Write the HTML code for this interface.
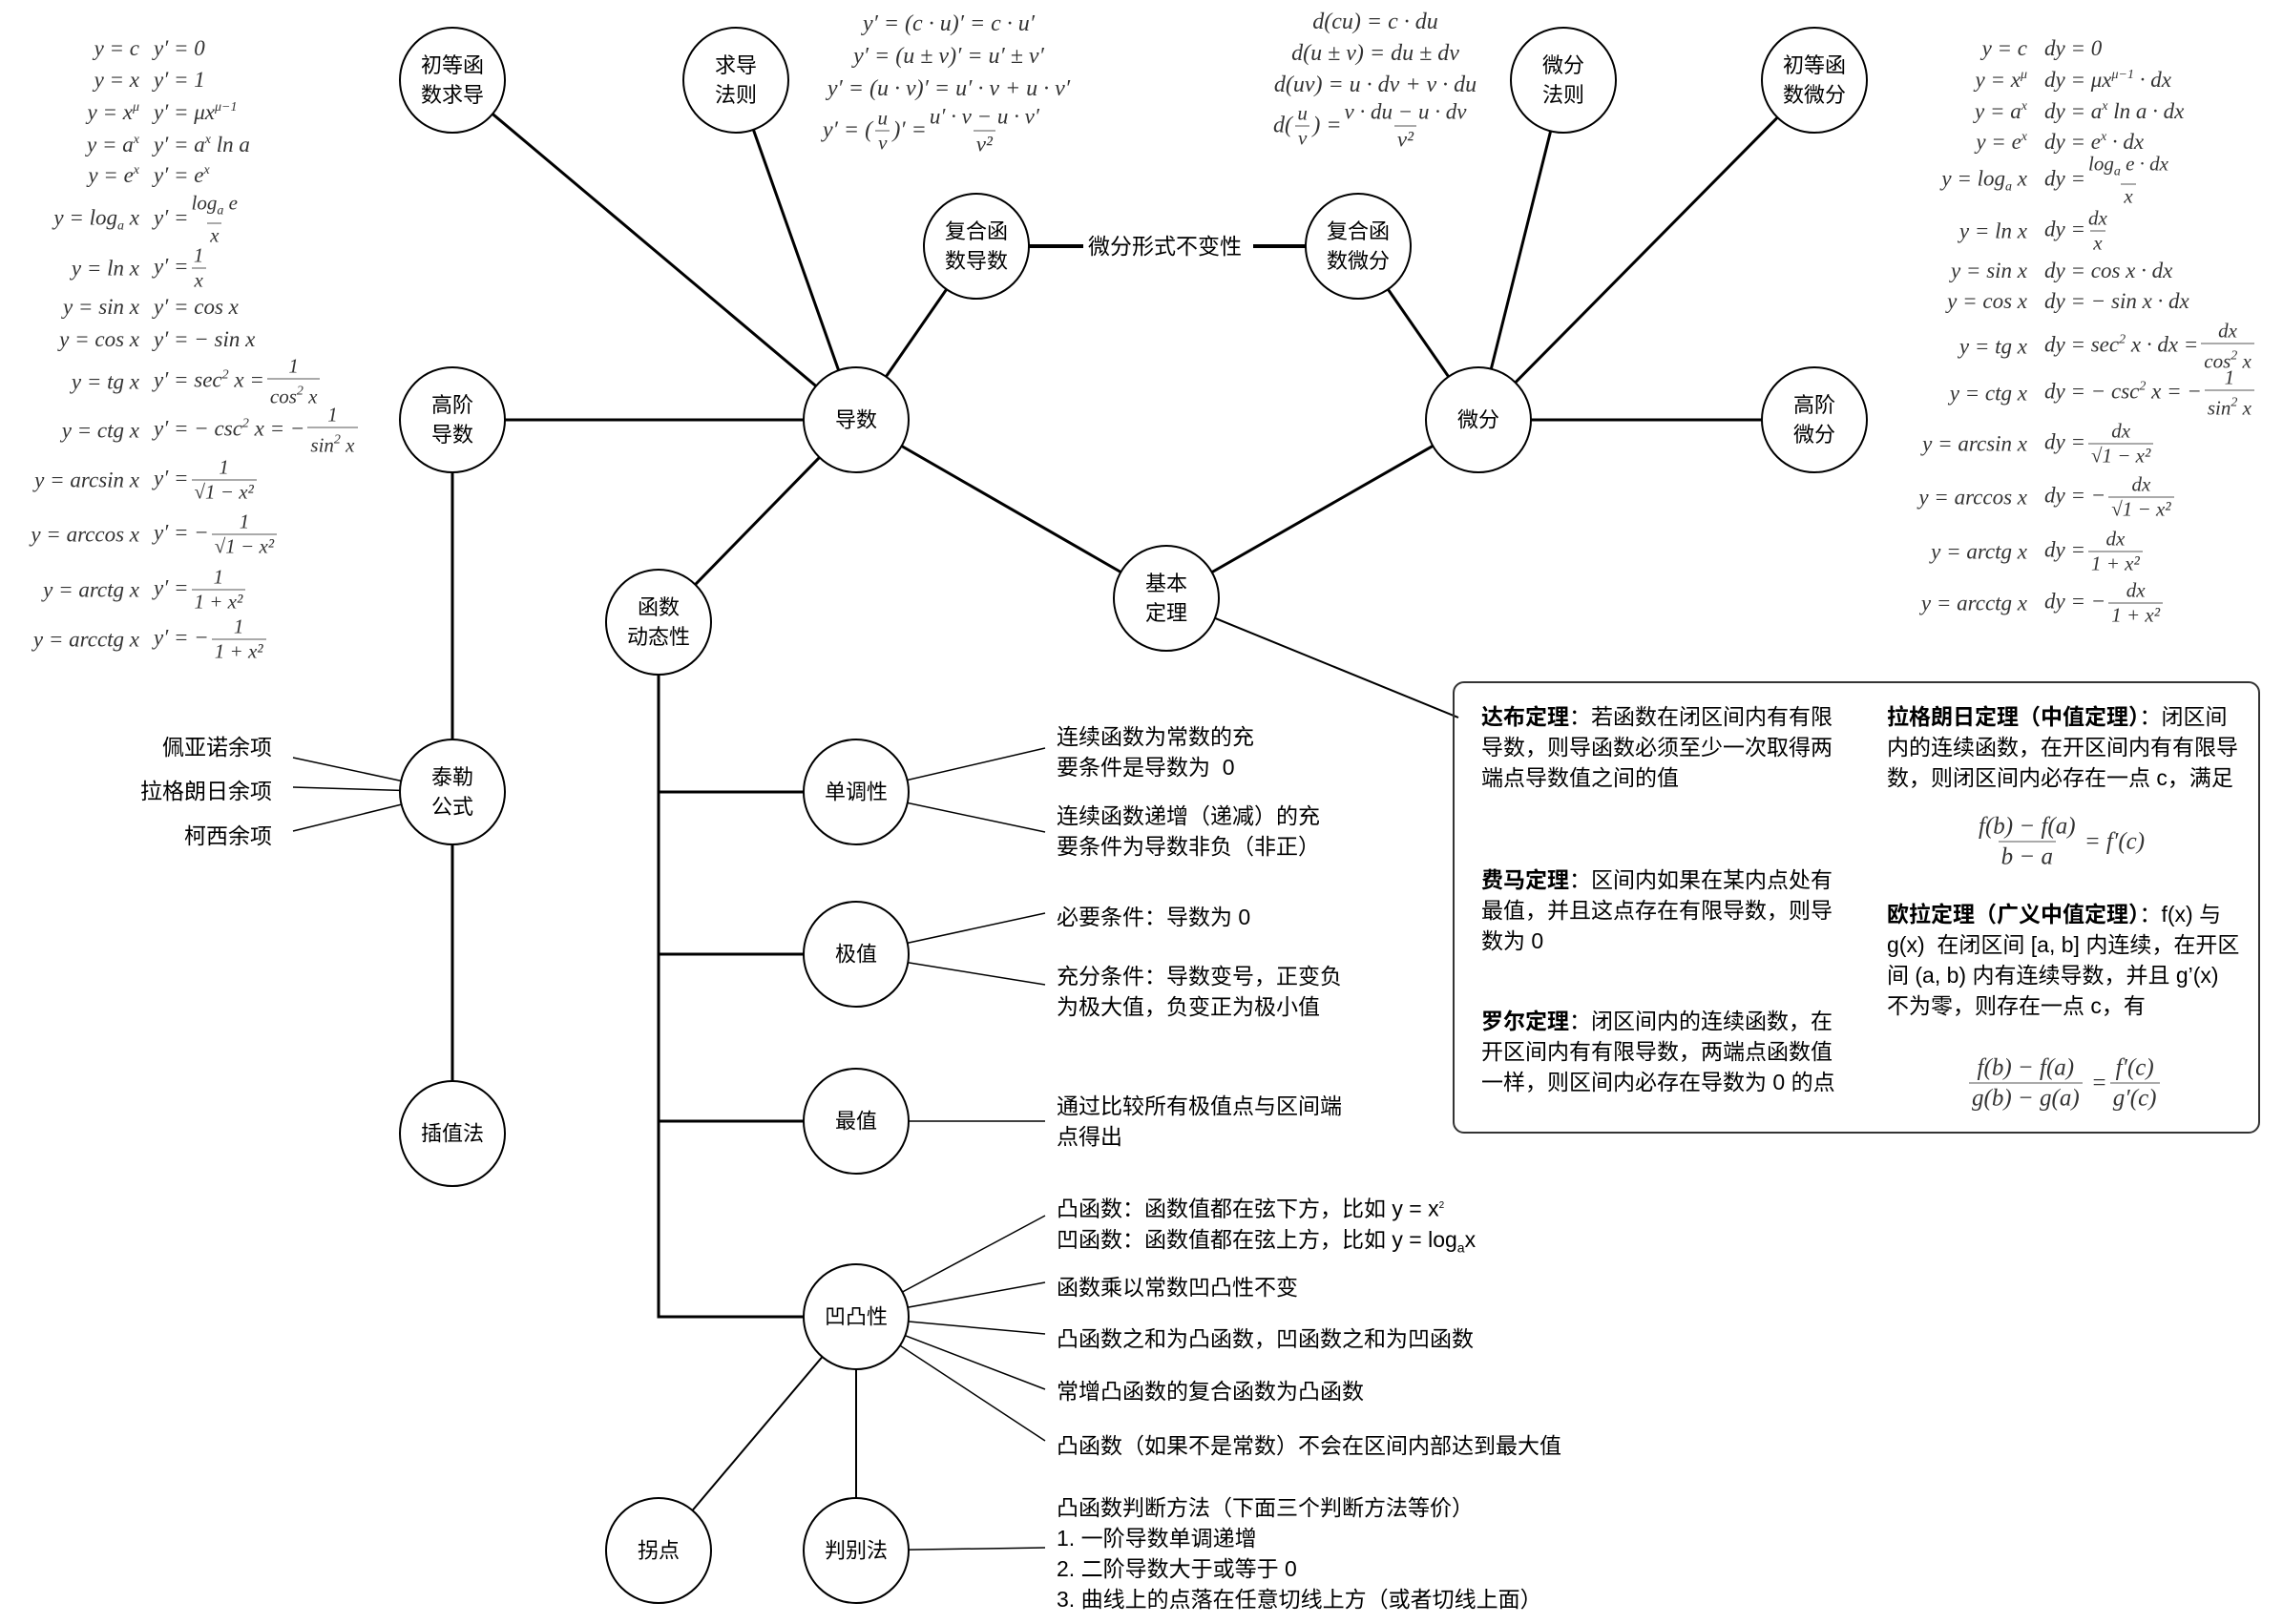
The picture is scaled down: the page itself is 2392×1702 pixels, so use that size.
<!DOCTYPE html>
<html><head><meta charset="utf-8"><style>
html,body{margin:0;padding:0;background:#fff}
body{width:2392px;height:1702px;position:relative;overflow:hidden;font-family:"Liberation Sans","Noto Sans CJK SC",sans-serif;color:#000}
svg{position:absolute;left:0;top:0}
.n{position:absolute;width:110px;text-align:center;font-size:22px;line-height:31px;transform:translate(-50%,-50%)}
.t{position:absolute;font-size:23px;line-height:32px;white-space:nowrap}
.m{font-family:"Liberation Serif","DejaVu Serif",serif;font-style:italic;color:#333;font-size:23px}
.row{position:absolute;display:flex;align-items:center;transform:translateY(-50%);white-space:nowrap}
.row .l{text-align:right;display:inline-block}
.row .r{display:inline-block}
.fr{display:inline-flex;flex-direction:column;align-items:center;vertical-align:middle;font-size:21px;line-height:25px;margin:0 3px}
.fr>span:last-child{border-top:1.5px solid #555;padding:0 3px}
.up{font-size:14px;vertical-align:9px}
.dn{font-size:14px;vertical-align:-5px}
.c{position:absolute;transform:translateX(-50%);text-align:center;white-space:nowrap}
.box{position:absolute;left:1522px;top:714px;width:846px;height:474px;border:2px solid #333;border-radius:12px;box-sizing:border-box}
b{font-weight:bold}
</style></head><body>
<svg width="2392" height="1702" stroke="#000" stroke-width="3" fill="none">
<line x1="897" y1="440" x2="474" y2="84"/>
<line x1="897" y1="440" x2="771" y2="84"/>
<line x1="897" y1="440" x2="1023" y2="258"/>
<line x1="897" y1="440" x2="474" y2="440"/>
<line x1="897" y1="440" x2="690" y2="652"/>
<line x1="897" y1="440" x2="1222" y2="627"/>
<line x1="1023" y1="258" x2="1135" y2="258" stroke-width="4"/>
<line x1="1313" y1="258" x2="1423" y2="258" stroke-width="4"/>
<line x1="1549" y1="440" x2="1423" y2="258"/>
<line x1="1549" y1="440" x2="1638" y2="84"/>
<line x1="1549" y1="440" x2="1901" y2="84"/>
<line x1="1549" y1="440" x2="1901" y2="440"/>
<line x1="1549" y1="440" x2="1222" y2="627"/>
<line x1="1222" y1="627" x2="1528" y2="752" stroke-width="2"/>
<line x1="474" y1="440" x2="474" y2="1188"/>
<g stroke-width="1.5">
<line x1="307" y1="794" x2="474" y2="830"/>
<line x1="307" y1="825" x2="474" y2="830"/>
<line x1="307" y1="871" x2="474" y2="830"/>
<line x1="897" y1="830" x2="1095" y2="784"/>
<line x1="897" y1="830" x2="1095" y2="872"/>
<line x1="897" y1="1000" x2="1095" y2="957"/>
<line x1="897" y1="1000" x2="1095" y2="1032"/>
<line x1="897" y1="1175" x2="1095" y2="1175"/>
<line x1="897" y1="1380" x2="1095" y2="1274"/>
<line x1="897" y1="1380" x2="1095" y2="1344"/>
<line x1="897" y1="1380" x2="1095" y2="1398"/>
<line x1="897" y1="1380" x2="1095" y2="1456"/>
<line x1="897" y1="1380" x2="1095" y2="1510"/>
<line x1="897" y1="1625" x2="1095" y2="1622"/>
</g>
<polyline points="690,652 690,1380 897,1380"/>
<line x1="690" y1="830" x2="897" y2="830"/>
<line x1="690" y1="1000" x2="897" y2="1000"/>
<line x1="690" y1="1175" x2="897" y2="1175"/>
<line x1="897" y1="1380" x2="690" y2="1625" stroke-width="2"/>
<line x1="897" y1="1380" x2="897" y2="1625" stroke-width="2"/>
<g fill="#fff" stroke-width="2">
<circle cx="474" cy="84" r="55"/><circle cx="771" cy="84" r="55"/>
<circle cx="1023" cy="258" r="55"/><circle cx="1423" cy="258" r="55"/>
<circle cx="1638" cy="84" r="55"/><circle cx="1901" cy="84" r="55"/>
<circle cx="474" cy="440" r="55"/><circle cx="897" cy="440" r="55"/>
<circle cx="1549" cy="440" r="55"/><circle cx="1901" cy="440" r="55"/>
<circle cx="690" cy="652" r="55"/><circle cx="1222" cy="627" r="55"/>
<circle cx="474" cy="830" r="55"/><circle cx="474" cy="1188" r="55"/>
<circle cx="897" cy="830" r="55"/><circle cx="897" cy="1000" r="55"/>
<circle cx="897" cy="1175" r="55"/><circle cx="897" cy="1380" r="55"/>
<circle cx="690" cy="1625" r="55"/><circle cx="897" cy="1625" r="55"/>
</g>
</svg>

<div class="n" style="left:474px;top:84px">初等函<br>数求导</div>
<div class="n" style="left:771px;top:84px">求导<br>法则</div>
<div class="n" style="left:1023px;top:258px">复合函<br>数导数</div>
<div class="t" style="left:1140px;top:242px">微分形式不变性</div>
<div class="n" style="left:1423px;top:258px">复合函<br>数微分</div>
<div class="n" style="left:1638px;top:84px">微分<br>法则</div>
<div class="n" style="left:1901px;top:84px">初等函<br>数微分</div>
<div class="n" style="left:474px;top:440px">高阶<br>导数</div>
<div class="n" style="left:897px;top:440px">导数</div>
<div class="n" style="left:1549px;top:440px">微分</div>
<div class="n" style="left:1901px;top:440px">高阶<br>微分</div>
<div class="n" style="left:690px;top:652px">函数<br>动态性</div>
<div class="n" style="left:1222px;top:627px">基本<br>定理</div>
<div class="n" style="left:474px;top:830px">泰勒<br>公式</div>
<div class="n" style="left:474px;top:1188px">插值法</div>
<div class="n" style="left:897px;top:830px">单调性</div>
<div class="n" style="left:897px;top:1000px">极值</div>
<div class="n" style="left:897px;top:1175px">最值</div>
<div class="n" style="left:897px;top:1380px">凹凸性</div>
<div class="n" style="left:690px;top:1625px">拐点</div>
<div class="n" style="left:897px;top:1625px">判别法</div>

<div class="t" style="right:2107px;top:767px">佩亚诺余项</div>
<div class="t" style="right:2107px;top:813px">拉格朗日余项</div>
<div class="t" style="right:2107px;top:860px">柯西余项</div>

<div class="t" style="left:1107px;top:756px">连续函数为常数的充<br>要条件是导数为&nbsp; 0</div>
<div class="t" style="left:1107px;top:839px">连续函数递增（递减）的充<br>要条件为导数非负（非正）</div>
<div class="t" style="left:1107px;top:945px">必要条件：导数为 0</div>
<div class="t" style="left:1107px;top:1007px">充分条件：导数变号，正变负<br>为极大值，负变正为极小值</div>
<div class="t" style="left:1107px;top:1143px">通过比较所有极值点与区间端<br>点得出</div>
<div class="t" style="left:1107px;top:1248px">凸函数：函数值都在弦下方，比如 y = x<sup style="font-size:10px">2</sup><br>凹函数：函数值都在弦上方，比如 y = log<sub style="font-size:14px">a</sub>x</div>
<div class="t" style="left:1107px;top:1333px">函数乘以常数凹凸性不变</div>
<div class="t" style="left:1107px;top:1387px">凸函数之和为凸函数，凹函数之和为凹函数</div>
<div class="t" style="left:1107px;top:1442px">常增凸函数的复合函数为凸函数</div>
<div class="t" style="left:1107px;top:1499px">凸函数（如果不是常数）不会在区间内部达到最大值</div>
<div class="t" style="left:1107px;top:1564px">凸函数判断方法（下面三个判断方法等价）<br>1. 一阶导数单调递增<br>2. 二阶导数大于或等于 0<br>3. 曲线上的点落在任意切线上方（或者切线上面）</div>

<div class="box"></div>
<div class="t" style="left:1552px;top:735px">
<b>达布定理</b>：若函数在闭区间内有有限<br>导数，则导函数必须至少一次取得两<br>端点导数值之间的值</div>
<div class="t" style="left:1552px;top:906px"><b>费马定理</b>：区间内如果在某内点处有<br>最值，并且这点存在有限导数，则导<br>数为 0</div>
<div class="t" style="left:1552px;top:1054px"><b>罗尔定理</b>：闭区间内的连续函数，在<br>开区间内有有限导数，两端点函数值<br>一样，则区间内必存在导数为 0 的点</div>
<div class="t" style="left:1977px;top:735px"><b>拉格朗日定理（中值定理）</b>：闭区间<br>内的连续函数，在开区间内有有限导<br>数，则闭区间内必存在一点 c，满足</div>
<div class="t" style="left:1977px;top:942px"><b>欧拉定理（广义中值定理）</b>：f(x) 与<br>g(x)&nbsp; 在闭区间 [a, b] 内连续，在开区<br>间 (a, b) 内有连续导数，并且 g’(x)<br>不为零，则存在一点 c，有</div>
<div class="row m" style="left:2070px;top:882px;font-size:25px"><span class="fr" style="font-size:25px;line-height:31px"><span>f(b) − f(a)</span><span>b − a</span></span>&nbsp;= f′(c)</div>
<div class="row m" style="left:2060px;top:1135px;font-size:25px"><span class="fr" style="font-size:25px;line-height:31px"><span>f(b) − f(a)</span><span>g(b) − g(a)</span></span>&nbsp;=<span class="fr" style="font-size:25px;line-height:31px"><span>f′(c)</span><span>g′(c)</span></span></div>

<!-- top derivative rules -->
<div class="c m" style="left:994px;top:8px;line-height:34px;font-size:24px">y′ = (c · u)′ = c · u′<br>y′ = (u ± v)′ = u′ ± v′<br>y′ = (u · v)′ = u′ · v + u · v′</div>
<div class="row m" style="left:862px;top:137px;font-size:24px">y′ = (<span class="fr"><span>u</span><span>v</span></span>)′ =<span class="fr" style="font-size:23px;line-height:28px"><span>u′ · v − u · v′</span><span>v²</span></span></div>
<!-- top differential rules -->
<div class="c m" style="left:1441px;top:7px;line-height:33px;font-size:24px">d(cu) = c · du<br>d(u ± v) = du ± dv<br>d(uv) = u · dv + v · du</div>
<div class="row m" style="left:1334px;top:132px;font-size:24px">d(<span class="fr"><span>u</span><span>v</span></span>) =<span class="fr" style="font-size:23px;line-height:28px"><span>v · du − u · dv</span><span>v²</span></span></div>

<!-- left derivative table -->
<div class="m">
<div class="row" style="left:0;top:51px"><span class="l" style="width:146px">y = c</span><span class="r" style="margin-left:15px">y′ = 0</span></div>
<div class="row" style="left:0;top:84px"><span class="l" style="width:146px">y = x</span><span class="r" style="margin-left:15px">y′ = 1</span></div>
<div class="row" style="left:0;top:118px"><span class="l" style="width:146px">y = x<span class="up">μ</span></span><span class="r" style="margin-left:15px">y′ = μx<span class="up">μ−1</span></span></div>
<div class="row" style="left:0;top:152px"><span class="l" style="width:146px">y = a<span class="up">x</span></span><span class="r" style="margin-left:15px">y′ = a<span class="up">x</span> ln a</span></div>
<div class="row" style="left:0;top:184px"><span class="l" style="width:146px">y = e<span class="up">x</span></span><span class="r" style="margin-left:15px">y′ = e<span class="up">x</span></span></div>
<div class="row" style="left:0;top:230px"><span class="l" style="width:146px">y = log<span class="dn">a</span> x</span><span class="r" style="margin-left:15px">y′ =<span class="fr"><span>log<span class="dn">a</span> e</span><span>x</span></span></span></div>
<div class="row" style="left:0;top:281px"><span class="l" style="width:146px">y = ln x</span><span class="r" style="margin-left:15px">y′ =<span class="fr"><span>1</span><span>x</span></span></span></div>
<div class="row" style="left:0;top:322px"><span class="l" style="width:146px">y = sin x</span><span class="r" style="margin-left:15px">y′ = cos x</span></div>
<div class="row" style="left:0;top:356px"><span class="l" style="width:146px">y = cos x</span><span class="r" style="margin-left:15px">y′ = − sin x</span></div>
<div class="row" style="left:0;top:400px"><span class="l" style="width:146px">y = tg x</span><span class="r" style="margin-left:15px">y′ = sec<span class="up">2</span> x =<span class="fr"><span>1</span><span>cos<span class="up">2</span> x</span></span></span></div>
<div class="row" style="left:0;top:451px"><span class="l" style="width:146px">y = ctg x</span><span class="r" style="margin-left:15px">y′ = − csc<span class="up">2</span> x = −<span class="fr"><span>1</span><span>sin<span class="up">2</span> x</span></span></span></div>
<div class="row" style="left:0;top:503px"><span class="l" style="width:146px">y = arcsin x</span><span class="r" style="margin-left:15px">y′ =<span class="fr"><span>1</span><span>√1 − x²</span></span></span></div>
<div class="row" style="left:0;top:560px"><span class="l" style="width:146px">y = arccos x</span><span class="r" style="margin-left:15px">y′ = −<span class="fr"><span>1</span><span>√1 − x²</span></span></span></div>
<div class="row" style="left:0;top:618px"><span class="l" style="width:146px">y = arctg x</span><span class="r" style="margin-left:15px">y′ =<span class="fr"><span>1</span><span>1 + x²</span></span></span></div>
<div class="row" style="left:0;top:670px"><span class="l" style="width:146px">y = arcctg x</span><span class="r" style="margin-left:15px">y′ = −<span class="fr"><span>1</span><span>1 + x²</span></span></span></div>
</div>

<!-- right differential table -->
<div class="m">
<div class="row" style="left:1900px;top:51px"><span class="l" style="width:224px">y = c</span><span class="r" style="margin-left:18px">dy = 0</span></div>
<div class="row" style="left:1900px;top:84px"><span class="l" style="width:224px">y = x<span class="up">μ</span></span><span class="r" style="margin-left:18px">dy = μx<span class="up">μ−1</span> · dx</span></div>
<div class="row" style="left:1900px;top:117px"><span class="l" style="width:224px">y = a<span class="up">x</span></span><span class="r" style="margin-left:18px">dy = a<span class="up">x</span> ln a · dx</span></div>
<div class="row" style="left:1900px;top:149px"><span class="l" style="width:224px">y = e<span class="up">x</span></span><span class="r" style="margin-left:18px">dy = e<span class="up">x</span> · dx</span></div>
<div class="row" style="left:1900px;top:189px"><span class="l" style="width:224px">y = log<span class="dn">a</span> x</span><span class="r" style="margin-left:18px">dy =<span class="fr"><span>log<span class="dn">a</span> e · dx</span><span>x</span></span></span></div>
<div class="row" style="left:1900px;top:242px"><span class="l" style="width:224px">y = ln x</span><span class="r" style="margin-left:18px">dy =<span class="fr"><span>dx</span><span>x</span></span></span></div>
<div class="row" style="left:1900px;top:284px"><span class="l" style="width:224px">y = sin x</span><span class="r" style="margin-left:18px">dy = cos x · dx</span></div>
<div class="row" style="left:1900px;top:316px"><span class="l" style="width:224px">y = cos x</span><span class="r" style="margin-left:18px">dy = − sin x · dx</span></div>
<div class="row" style="left:1900px;top:363px"><span class="l" style="width:224px">y = tg x</span><span class="r" style="margin-left:18px">dy = sec<span class="up">2</span> x · dx =<span class="fr"><span>dx</span><span>cos<span class="up">2</span> x</span></span></span></div>
<div class="row" style="left:1900px;top:412px"><span class="l" style="width:224px">y = ctg x</span><span class="r" style="margin-left:18px">dy = − csc<span class="up">2</span> x = −<span class="fr"><span>1</span><span>sin<span class="up">2</span> x</span></span></span></div>
<div class="row" style="left:1900px;top:465px"><span class="l" style="width:224px">y = arcsin x</span><span class="r" style="margin-left:18px">dy =<span class="fr"><span>dx</span><span>√1 − x²</span></span></span></div>
<div class="row" style="left:1900px;top:521px"><span class="l" style="width:224px">y = arccos x</span><span class="r" style="margin-left:18px">dy = −<span class="fr"><span>dx</span><span>√1 − x²</span></span></span></div>
<div class="row" style="left:1900px;top:578px"><span class="l" style="width:224px">y = arctg x</span><span class="r" style="margin-left:18px">dy =<span class="fr"><span>dx</span><span>1 + x²</span></span></span></div>
<div class="row" style="left:1900px;top:632px"><span class="l" style="width:224px">y = arcctg x</span><span class="r" style="margin-left:18px">dy = −<span class="fr"><span>dx</span><span>1 + x²</span></span></span></div>
</div>
</body></html>
